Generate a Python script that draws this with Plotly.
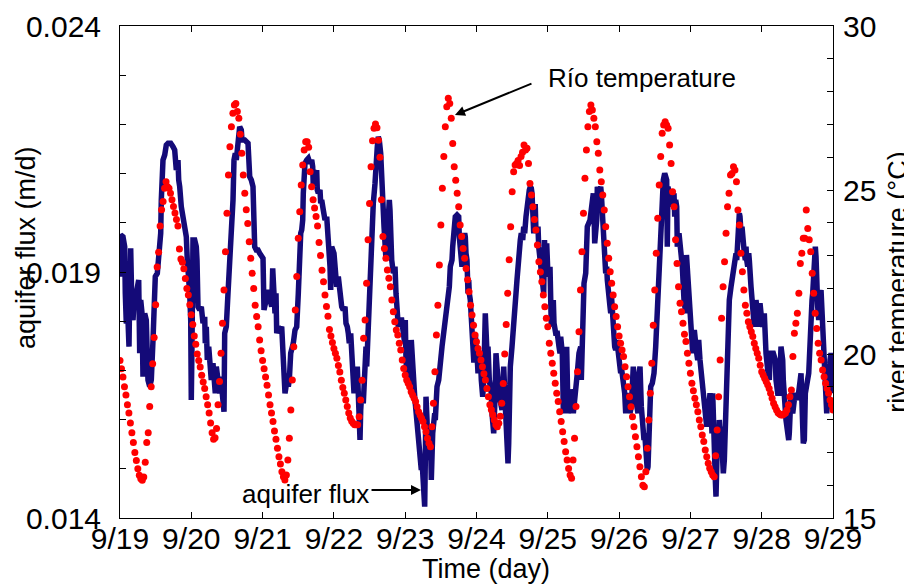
import plotly.graph_objects as go

# ---------------- river temperature (deg C), half-hourly samples, one list per day ----------------
t0919 = [19.8, 19.55, 19.3, 19.0, 18.75, 18.45, 18.2, 17.9, 17.6, 17.3, 17.0, 16.75, 16.5, 16.3, 16.2, 16.15,
         16.25, 16.7, 17.3, 17.6, 18.4, 19.0, 19.7, 20.5, 21.5, 22.65, 23.1, 23.9, 24.4, 24.65, 25.05,
         25.25, 25.1, 25.05, 24.9, 24.7, 24.5, 24.3, 24.1, 23.9, 23.2, 22.9, 22.8, 22.6, 22.3, 22.0, 21.8, 21.5]
t0920 = [21.2, 20.9, 20.55, 20.3, 20.0, 19.8, 19.6, 19.35, 19.15, 18.95, 18.7, 18.45, 18.2, 17.9, 17.6, 17.4, 17.45,
         17.73, 18.45, 19.16, 20.02, 20.94, 21.95, 23.12, 24.29, 25.46, 26.32, 26.93, 27.34, 27.59, 27.64, 27.39, 27.19,
         26.7, 26.12, 25.46, 24.9, 24.4, 23.98, 23.42, 22.92, 22.46, 22.0, 21.49, 21.14, 20.83, 20.43, 20.1]
t0921 = [19.8, 19.55, 19.3, 19.05, 18.75, 18.45, 18.2, 17.94, 17.65, 17.4, 17.13, 16.87, 16.65, 16.41, 16.26, 16.16,
         16.31, 16.77, 17.43, 18.29, 19.21, 20.22, 21.34, 22.36, 23.53, 24.34, 25.15, 25.76, 26.22, 26.47, 26.47, 26.3,
         25.56, 25.1, 24.7, 24.45, 24.19, 23.9, 23.4, 23.0, 22.55, 22.2, 21.8, 21.45, 21.15, 20.75, 20.55, 20.35]
t0922 = [20.17, 20.02, 19.87, 19.65, 19.45, 19.2, 18.98, 18.8, 18.6, 18.4, 18.2, 18.05, 17.95, 17.89, 17.84, 17.84,
         17.84, 18.09, 18.6, 19.2, 20.48, 21.04, 22.16, 23.48, 24.59, 25.71, 26.5, 26.88, 27.01, 26.9, 26.52,
         26.0, 24.7, 23.58, 23.22, 22.92, 22.56, 22.31, 22.05, 21.65, 21.29, 20.98, 20.73, 20.58, 20.33, 20.12, 19.82, 19.56]
t0923 = [19.36, 19.21, 19.11, 19.0, 18.85, 18.75, 18.65, 18.55, 18.39, 18.24, 18.14, 18.04, 17.94, 17.78, 17.63, 17.43, 17.28, 17.17,
         17.78, 18.5, 19.46, 20.58, 21.49, 22.71, 23.93, 25.05, 26.02, 26.93, 27.54, 27.8, 27.64, 27.19, 26.42, 25.71, 25.3,
         24.9, 24.49, 23.93, 23.58, 23.22, 22.92, 22.61, 22.26, 21.9, 21.49, 21.19, 20.88, 20.58]
t0924 = [20.37, 20.17, 20.02, 19.82, 19.61, 19.4, 19.21, 18.95, 18.7, 18.45, 18.3, 18.15, 17.99, 17.84, 17.78, 17.89,
         18.1, 18.5, 19.1, 20.0, 20.9, 21.85, 22.87, 23.88, 24.95, 25.56, 25.76, 25.81, 25.9, 25.75, 26.02, 26.15, 26.37,
         26.22, 26.27, 25.81, 25.2, 24.85, 24.49, 24.1, 23.78, 23.32, 22.81, 22.5, 22.2, 21.8, 21.44, 21.09]
t0925 = [20.83, 20.33, 20.02, 19.72, 19.41, 19.11, 18.8, 18.55, 18.24, 17.94, 17.63, 17.33, 17.02, 16.77, 16.51, 16.31, 16.21,
         16.77, 17.43, 18.4, 19.46, 20.68, 21.95, 23.12, 24.29, 25.36, 26.22, 26.93, 27.39, 27.59,
         27.44, 27.19, 26.93, 26.47, 26.12, 25.61, 25.25, 24.85, 24.39, 23.88, 23.38, 22.92, 22.51, 22.16, 21.8, 21.44, 21.14, 20.83]
t0926 = [20.55, 20.33, 20.12, 19.92, 19.61, 19.31, 19.0, 18.7, 18.39, 18.09, 17.78, 17.48, 17.17, 16.87, 16.56, 16.26, 16.0, 15.95,
         16.41, 17.13, 17.99, 18.8, 19.72, 20.88, 21.95, 23.07, 24.14, 25.15, 26.02, 26.73, 26.98, 27.08, 26.98, 26.88,
         26.37, 25.81, 24.95, 24.49, 23.48, 22.76, 22.05, 21.55, 21.29, 20.94, 20.6, 20.38, 20.02, 19.72]
t0927 = [19.41, 19.11, 18.88, 18.65, 18.45, 18.24, 17.99, 17.78, 17.53, 17.33, 17.07, 16.87, 16.67, 16.52, 16.41, 16.31, 16.26,
         16.9, 17.68, 18.7, 19.82, 21.09, 22.05, 22.81, 23.68, 24.49, 24.9, 25.46, 25.5, 25.71, 25.61, 25.25, 24.39, 23.93,
         23.07, 22.51, 21.95, 21.49, 21.24, 20.98, 20.83, 20.68, 20.53, 20.33, 20.17, 20.02, 19.87, 19.66]
t0928 = [19.46, 19.36, 19.26, 19.16, 19.06, 18.95, 18.8, 18.65, 18.5, 18.39, 18.29, 18.21, 18.17, 18.14, 18.14, 18.17, 18.2,
         18.29, 18.45, 18.7, 18.9, 19.92, 20.63, 20.94, 21.24, 21.85, 22.76, 23.07, 23.53, 23.53, 24.39, 23.83, 23.48, 23.12,
         22.46, 21.85, 21.24, 20.78, 20.33, 20.02, 19.82, 19.51, 19.31, 19.11, 18.95, 18.8, 18.6, 18.45]
t0929 = [18.29]
temp_step_hours = 0.5

# ---------------- aquifer flux (m/d): time in hours since 9/19 00:00, value ----------------
flux_hours = [
    0.0, 0.24, 1.01, 1.58, 1.78, 2.12, 2.69, 3.03, 3.27, 3.60, 4.04, 4.38, 4.95, 5.49, 6.29, 6.63, 6.97, 7.41, 7.74,
    8.31, 8.85, 9.42, 10.0, 10.54, 11.11, 11.68, 11.88, 12.56, 13.03, 13.36, 13.70, 13.90, 14.47, 15.05, 15.58, 16.16,
    17.07, 17.84, 18.41, 18.95, 19.52, 19.76, 20.10, 20.63, 21.21, 21.78, 22.32, 22.65, 23.12, 23.46, 23.80, 24.0,
    24.24, 24.57, 25.14, 25.68, 25.92, 26.26, 26.83, 27.37, 27.94, 28.51, 28.71, 29.05, 29.39, 29.86, 30.19, 30.73,
    31.30, 31.64, 32.08, 32.42, 32.99, 33.56, 33.90, 34.33, 34.67, 35.01, 35.24, 35.78, 36.35, 36.93, 37.46, 38.04,
    38.37, 38.81, 39.15, 39.72, 40.29, 40.83, 41.07, 41.98, 43.09, 43.66, 44.20, 44.77, 45.34, 45.88, 46.45, 47.02,
    47.56, 48.14, 48.47, 49.38, 49.92, 50.49, 51.06, 51.40, 51.84, 52.17, 52.51, 52.75, 53.28, 53.86, 54.43, 54.77,
    55.20, 55.54, 55.88, 56.11, 56.65, 56.99, 57.46, 57.80, 58.33, 58.91, 59.48, 60.02, 60.35, 60.83, 61.16, 61.50,
    61.70, 61.94, 62.27, 62.84, 63.38, 63.96, 64.53, 64.86, 65.07, 65.30, 65.64, 66.21, 66.41, 66.75, 67.32, 67.56,
    67.89, 68.43, 69.0, 69.58, 70.12, 70.69, 70.92, 71.26, 72.03, 72.37, 72.94, 73.48, 74.05, 74.63, 75.16, 75.74,
    76.07, 76.51, 76.85, 77.18, 77.66, 77.99, 78.33, 78.77, 79.10, 79.44, 79.88, 80.21, 80.79, 81.02, 81.36, 81.89,
    82.47, 82.81, 83.04, 83.58, 84.15, 84.72, 85.26, 85.84, 86.17, 86.61, 86.95, 87.28, 87.75, 88.09, 88.43, 88.87,
    89.54, 89.98, 90.31, 90.65, 90.88, 91.12, 91.46, 92.0, 92.57, 92.90, 93.34, 93.68, 94.25, 94.82,
    95.83, 96.03, 96.27, 96.61, 96.94, 97.18, 97.38, 97.72, 98.05, 98.29, 98.86, 99.20, 99.64, 99.97, 100.31, 100.55,
    101.08, 101.42, 101.66, 101.89, 102.23, 102.56, 102.77, 103.0, 103.34, 103.68, 103.91, 104.45, 104.79, 105.26,
    105.93, 106.13, 106.71, 107.28, 108.39, 108.96, 109.50, 110.07, 110.41, 110.85, 111.18, 111.75, 111.99, 112.33,
    112.66, 112.86, 113.44, 114.01, 114.21, 114.89, 115.12, 115.36, 116.03, 116.23, 116.47, 116.80, 117.14, 117.38,
    117.58, 117.92, 118.25, 118.49, 118.72, 119.06, 119.40, 119.60, 119.83, 120.17, 120.51, 120.94, 121.28, 121.62,
    121.85, 122.09, 122.43, 122.76, 122.96, 123.54, 123.87, 124.31, 124.98, 125.22, 125.45, 125.79, 126.13, 126.33,
    126.56, 127.24, 127.47, 128.59, 129.16, 129.70, 129.93, 130.27, 130.60, 130.84, 131.04, 131.38, 131.95, 132.52,
    132.86, 133.30, 133.63, 133.97, 134.21, 134.74, 135.08, 135.55, 135.89, 136.22, 136.66, 137.0, 137.34, 137.77,
    138.11, 138.45, 138.68, 138.92, 139.26, 139.59, 139.79, 140.03, 140.70, 140.94, 141.14, 141.48, 142.05, 142.62,
    142.89, 143.30, 143.63, 144.07, 144.74, 144.98, 145.18, 145.52, 145.85, 146.09, 146.66, 147.20, 147.77, 148.11,
    148.34, 148.88, 149.22, 149.45, 149.69, 150.03, 150.36, 150.57, 150.80, 151.14, 151.71, 152.25, 152.59, 153.06,
    153.39, 153.93, 154.50, 155.08, 155.28, 155.62, 155.95, 156.19, 156.76, 157.10, 157.30, 158.21, 158.65, 158.99,
    159.32, 159.56, 159.79, 160.47, 160.67, 161.24, 161.81, 162.01, 162.69, 162.92, 163.49, 163.83, 164.03, 164.94,
    165.18, 165.38, 165.72, 166.05, 166.52, 166.86, 167.19, 167.63, 167.97, 168.54, 168.74, 169.08, 169.65, 169.89,
    170.22, 170.56, 170.76, 171.33, 171.67, 172.11, 172.44, 172.78, 173.25, 173.59, 174.36, 174.70, 175.04, 175.48,
    175.81, 176.15, 176.38, 176.62, 176.96, 177.29, 177.49, 177.73, 178.07, 178.40, 178.64, 179.18, 179.75, 180.32,
    180.66, 180.86, 181.10, 181.43, 181.77, 182.21, 182.54, 182.88, 183.35, 184.02, 184.22, 184.46, 184.80, 185.14,
    185.57, 185.91, 186.48, 186.72, 187.05, 187.39, 187.59, 188.16, 189.28, 189.85, 190.42,
    190.68, 191.09, 191.63, 191.87, 192.20, 192.78, 193.32, 193.65, 194.12, 194.46, 194.79, 195.23, 195.57, 195.91,
    196.14, 196.68, 197.02, 197.49, 197.82, 198.16, 198.36, 198.60, 198.93, 199.27, 199.51, 199.71, 200.05, 200.39,
    200.62, 200.86, 201.19, 201.53, 201.73, 201.97, 202.31, 202.64, 202.88, 203.08, 203.42, 203.76, 203.99, 204.56,
    204.90, 205.10, 205.68, 206.25, 206.79, 207.36, 207.59, 207.93, 208.26, 208.47, 208.70, 209.04, 209.37, 209.61,
    209.81, 210.15, 210.49, 210.72, 210.95, 211.29, 211.63, 211.83, 212.40, 212.74, 212.97, 213.17, 213.51, 213.85,
    214.08, 214.32, 214.65, 214.99, 215.43, 216.10, 216.34, 216.88, 217.22, 217.45, 218.02, 218.56, 218.80, 219.13,
    219.91, 220.58, 220.82, 221.39, 221.93, 222.16, 222.50, 223.07, 223.27, 224.18, 224.75, 225.09, 225.29, 225.53,
    225.86, 226.20, 226.44, 226.98, 227.55, 228.12, 229.24, 229.81, 230.01, 230.35, 230.69, 231.16, 231.49, 231.83,
    232.03, 232.26, 232.60, 232.94, 233.17, 233.71, 234.05, 234.28, 234.52, 234.85, 235.19, 235.39, 235.97, 236.30,
    236.54, 236.74, 237.08, 237.42, 237.65, 237.89, 238.23, 238.56, 238.76, 239.0, 239.34, 239.68, 239.91,
]
flux_vals = [
    0.018905, 0.019752, 0.019717, 0.019514, 0.018567, 0.017957, 0.018024, 0.017482, 0.018567, 0.019482, 0.018161,
    0.018024, 0.018634, 0.018567, 0.018837, 0.017348, 0.018431, 0.018161, 0.016872, 0.018161, 0.018024, 0.016805,
    0.016669, 0.016805, 0.017618, 0.018295, 0.018905, 0.018974, 0.019380, 0.019380, 0.019787, 0.020463, 0.021276,
    0.021378, 0.021581, 0.021616, 0.021616, 0.021547, 0.021480, 0.021073, 0.021276, 0.020870, 0.020734, 0.020327,
    0.020057, 0.019955, 0.019717, 0.019244, 0.018974, 0.018567, 0.018024, 0.016398, 0.017551, 0.019650, 0.019650,
    0.019514, 0.019244, 0.018295, 0.018228, 0.018295, 0.017957, 0.018091, 0.017551, 0.017888, 0.017211, 0.017482,
    0.017075, 0.016805, 0.017144, 0.016669, 0.016535, 0.017075, 0.016805, 0.016535, 0.016872, 0.016535, 0.016195,
    0.016161, 0.017754, 0.017888, 0.018567, 0.019244, 0.019514, 0.020463, 0.021276, 0.021413, 0.021276, 0.021750,
    0.021953, 0.021886, 0.021683, 0.021683, 0.021616, 0.020937, 0.020870, 0.020734, 0.019514, 0.019447, 0.019447,
    0.019380, 0.019311, 0.019278, 0.018228, 0.018567, 0.018634, 0.018431, 0.018295, 0.019075, 0.018634, 0.018161,
    0.018567, 0.017754, 0.017888, 0.017821, 0.017888, 0.017415, 0.017211, 0.016535, 0.016669, 0.016941, 0.016669,
    0.016805, 0.017348, 0.017415, 0.017551, 0.017821, 0.017888, 0.018567, 0.019514, 0.019787, 0.019854, 0.020057,
    0.020600, 0.021073, 0.021209, 0.021276, 0.021311, 0.021209, 0.021276, 0.021140, 0.020734, 0.021073, 0.020734,
    0.021073, 0.020667, 0.020600, 0.020667, 0.020396, 0.020463, 0.020260, 0.020057, 0.020124, 0.019717, 0.019108,
    0.018634, 0.019514, 0.019380, 0.018974, 0.018701, 0.018905, 0.018567, 0.018295, 0.018228, 0.018295, 0.017957,
    0.017888, 0.017754, 0.017551, 0.017754, 0.017211, 0.016805, 0.016535, 0.016805, 0.016535, 0.017075, 0.016128,
    0.015585, 0.016195, 0.016535, 0.016331, 0.017211, 0.017482, 0.017075, 0.018024, 0.018905, 0.019717, 0.020396,
    0.020803, 0.021343, 0.021547, 0.021750, 0.021683, 0.021413, 0.020870, 0.020260, 0.019921, 0.019244, 0.019921,
    0.020396, 0.020463, 0.020260, 0.019380, 0.019244, 0.018974, 0.019108, 0.018567, 0.018161, 0.017888, 0.018024,
    0.018024,
    0.017551, 0.018024, 0.017211, 0.016872, 0.017348, 0.017618, 0.017211, 0.016669, 0.017618, 0.017211, 0.016805,
    0.016465, 0.016128, 0.015992, 0.015856, 0.015652, 0.015315, 0.014976, 0.015179, 0.014839, 0.014636, 0.014230,
    0.015179, 0.016465, 0.015992, 0.015179, 0.015518, 0.015856, 0.014772, 0.015722, 0.016128, 0.015992, 0.016669,
    0.016805, 0.017482, 0.017754, 0.018024, 0.018295, 0.018431, 0.018701, 0.019108, 0.019244, 0.019514, 0.019787,
    0.019921, 0.020124, 0.020159, 0.020124, 0.019717, 0.019244, 0.019108, 0.019583, 0.019787, 0.019717, 0.019380,
    0.019244, 0.018567, 0.018837, 0.018567, 0.018431, 0.017888, 0.017754, 0.017348, 0.017211, 0.017211, 0.017754,
    0.017482, 0.017348, 0.016941, 0.017211, 0.017348, 0.016805, 0.016535, 0.016465, 0.016805, 0.017888, 0.018161,
    0.017348, 0.017482, 0.016805, 0.016535, 0.016128, 0.015992, 0.015722, 0.016262, 0.017075, 0.017348, 0.016805,
    0.016535, 0.016195, 0.017075, 0.016262, 0.015992, 0.015382, 0.015112, 0.015518, 0.016262, 0.017075, 0.017482,
    0.018161, 0.018431, 0.018567, 0.018837, 0.019108, 0.019514, 0.019650, 0.019787, 0.019650, 0.019921, 0.019787,
    0.020124, 0.020396, 0.020600, 0.020667, 0.020734, 0.020701, 0.020600, 0.020396, 0.019787, 0.020327, 0.020327,
    0.019787, 0.019921, 0.019514, 0.019380, 0.019108, 0.018837, 0.018567,
    0.019650, 0.018974, 0.019583, 0.018905, 0.019108, 0.018567, 0.017888, 0.018024, 0.018431, 0.017957, 0.017754,
    0.017754, 0.017482, 0.017348, 0.017685, 0.017348, 0.016195, 0.016128, 0.017348, 0.017075, 0.017482, 0.016805,
    0.016128, 0.016262, 0.016602, 0.016535, 0.016128, 0.016535, 0.016805, 0.016941, 0.017348, 0.017482, 0.016805,
    0.017618, 0.018161, 0.018770, 0.018974, 0.019380, 0.019921, 0.020057, 0.020327, 0.020463, 0.020600, 0.020260,
    0.019583, 0.020057, 0.020734, 0.020600, 0.020734, 0.020600, 0.019650, 0.019244, 0.018974, 0.019108, 0.018837,
    0.018295, 0.018161, 0.018567, 0.018024, 0.017754, 0.017482, 0.017415, 0.017618, 0.017415, 0.017211, 0.016941,
    0.017075, 0.016872, 0.016805, 0.016535, 0.016128, 0.016331, 0.016535, 0.016398, 0.016128, 0.016262, 0.016669,
    0.017075, 0.016535, 0.016398, 0.016128, 0.016941, 0.017075, 0.016262, 0.015992, 0.015722, 0.015585, 0.015722,
    0.015179, 0.015112, 0.014976, 0.015043, 0.015722, 0.016128, 0.016669, 0.016738, 0.016941, 0.017482, 0.018024,
    0.018161, 0.018701, 0.019244, 0.019787, 0.020057, 0.020600, 0.020870, 0.021006, 0.020870, 0.019514, 0.020734,
    0.020600, 0.020327, 0.020600, 0.020463, 0.020600, 0.020124, 0.020463, 0.020327, 0.019514, 0.019787, 0.019108,
    0.018431, 0.018161,
    0.019346, 0.018905, 0.018701, 0.018161, 0.017754, 0.017348, 0.017821, 0.017482, 0.017348, 0.017211, 0.017618,
    0.017211, 0.017008, 0.016805, 0.016535, 0.016262, 0.016128, 0.015856, 0.015992, 0.016535, 0.016195, 0.016535,
    0.016262, 0.015722, 0.016535, 0.015856, 0.015179, 0.014772, 0.014433, 0.015315, 0.015856, 0.015585, 0.015992,
    0.015722, 0.015856, 0.015315, 0.015179, 0.014909, 0.015179, 0.015856, 0.016535, 0.017211, 0.017754, 0.018431,
    0.018701, 0.018974, 0.019108, 0.019380, 0.019244, 0.019787, 0.019921, 0.020193, 0.020124, 0.019787, 0.019921,
    0.019514, 0.019650, 0.019380, 0.019244, 0.019514, 0.019244, 0.019108, 0.019380, 0.019244, 0.018701, 0.018431,
    0.018295, 0.018161, 0.017888, 0.018024, 0.018431, 0.018295, 0.017888, 0.018024, 0.018364, 0.017957, 0.017888,
    0.018161, 0.017551, 0.017348, 0.017008, 0.016805, 0.017211, 0.017348, 0.017348, 0.017211, 0.016805, 0.016535,
    0.016535, 0.017211, 0.017482, 0.017211, 0.016805, 0.015992, 0.015722, 0.015585, 0.015722, 0.016128, 0.016535,
    0.016398, 0.016128, 0.016398, 0.016535, 0.016398, 0.016941, 0.015856, 0.015518, 0.015585, 0.016535, 0.016669,
    0.016805, 0.016941, 0.017211, 0.017754, 0.018295, 0.018431, 0.018567, 0.019244, 0.019514, 0.019311, 0.018567,
    0.018295, 0.018024, 0.018431, 0.018634, 0.018161, 0.018024, 0.017618, 0.017211, 0.016805, 0.016262, 0.016128,
    0.016398, 0.016535, 0.016669, 0.017211, 0.017348, 0.017211, 0.016535,
]

# ---------------- axes ----------------
day_labels = ["9/19", "9/20", "9/21", "9/22", "9/23", "9/24", "9/25", "9/26", "9/27", "9/28", "9/29"]
flux_ticks = [0.014, 0.015, 0.016, 0.017, 0.018, 0.019, 0.020, 0.021, 0.022, 0.023, 0.024]
flux_tick_text = ["0.014", "", "", "", "", "0.019", "", "", "", "", "0.024"]
temp_ticks = list(range(15, 31))
temp_tick_text = [str(v) if v % 5 == 0 else "" for v in temp_ticks]

temp = t0919 + t0920 + t0921 + t0922 + t0923 + t0924 + t0925 + t0926 + t0927 + t0928 + t0929
temp_days = [i * temp_step_hours / 24.0 for i in range(len(temp))]
n = min(len(flux_hours), len(flux_vals))
flux_days = [h / 24.0 for h in flux_hours[:n]]
flux_y = flux_vals[:n]

FONT = "Liberation Sans, Arial, Helvetica, sans-serif"
NAVY = "#140a78"

fig = go.Figure()
fig.add_trace(go.Scatter(x=flux_days, y=flux_y, mode="lines", name="aquifer flux",
                         line=dict(color=NAVY, width=5.5), yaxis="y"))
fig.add_trace(go.Scatter(x=temp_days, y=temp, mode="markers", name="Río temperature",
                         marker=dict(color="#ff0000", size=7, line=dict(width=0)), yaxis="y2"))

axis_common = dict(showgrid=False, zeroline=False, showline=True, linecolor="black", linewidth=1,
                   ticks="inside", ticklen=6, tickcolor="black", tickwidth=1,
                   tickfont=dict(family=FONT, size=30, color="black"))

# page has an 8px body margin, so the figure is 8px smaller than the 912x584 window
fig.update_layout(
    width=904, height=576,
    margin=dict(l=112, r=79, t=18, b=66, autoexpand=False),
    paper_bgcolor="white", plot_bgcolor="white",
    showlegend=False,
    font=dict(family=FONT, color="black"),
    xaxis=dict(range=[0, 10], tickmode="array", tickvals=list(range(11)), ticktext=day_labels,
               mirror="ticks", automargin=False, ticklabelstandoff=-6, **axis_common),
    yaxis=dict(range=[0.014, 0.024], tickmode="array", tickvals=flux_ticks, ticktext=flux_tick_text,
               automargin=False, ticklabelstandoff=12, **axis_common),
    yaxis2=dict(range=[15, 30], tickmode="array", tickvals=temp_ticks, ticktext=temp_tick_text,
                overlaying="y", side="right", automargin=False, ticklabelstandoff=3, **axis_common),
)

ann_font = dict(family=FONT, size=26, color="black")
title_font = dict(family=FONT, size=27, color="black")
fig.update_layout(annotations=[
    dict(text="Time (day)", xref="paper", yref="paper", x=0.513, y=-0.104, xanchor="center", yanchor="middle",
         showarrow=False, font=title_font),
    dict(text="aquifer flux (m/d)", xref="paper", yref="paper", x=-0.131, y=0.55, xanchor="center",
         yanchor="middle", textangle=-90, showarrow=False, font=title_font),
    dict(text="river temperature (°C)", xref="paper", yref="paper", x=1.091, y=0.48, xanchor="center",
         yanchor="middle", textangle=-90, showarrow=False, font=title_font),
    dict(text="Río temperature", xref="paper", yref="paper", x=0.5975, y=0.894, xanchor="left",
         yanchor="middle", showarrow=False, font=ann_font),
    dict(text="", xref="paper", yref="paper", x=0.4698, y=0.8191, showarrow=True, ax=78, ay=-32,
         arrowhead=2, arrowsize=1, arrowwidth=2, arrowcolor="black"),
    dict(text="aquifer flux", xref="paper", yref="paper", x=0.1683, y=0.0488, xanchor="left",
         yanchor="middle", showarrow=False, font=ann_font),
    dict(text="", xref="paper", yref="paper", x=0.4222, y=0.0569, showarrow=True, ax=-51, ay=0,
         arrowhead=2, arrowsize=1, arrowwidth=2, arrowcolor="black"),
])

fig.write_html("out.html")
